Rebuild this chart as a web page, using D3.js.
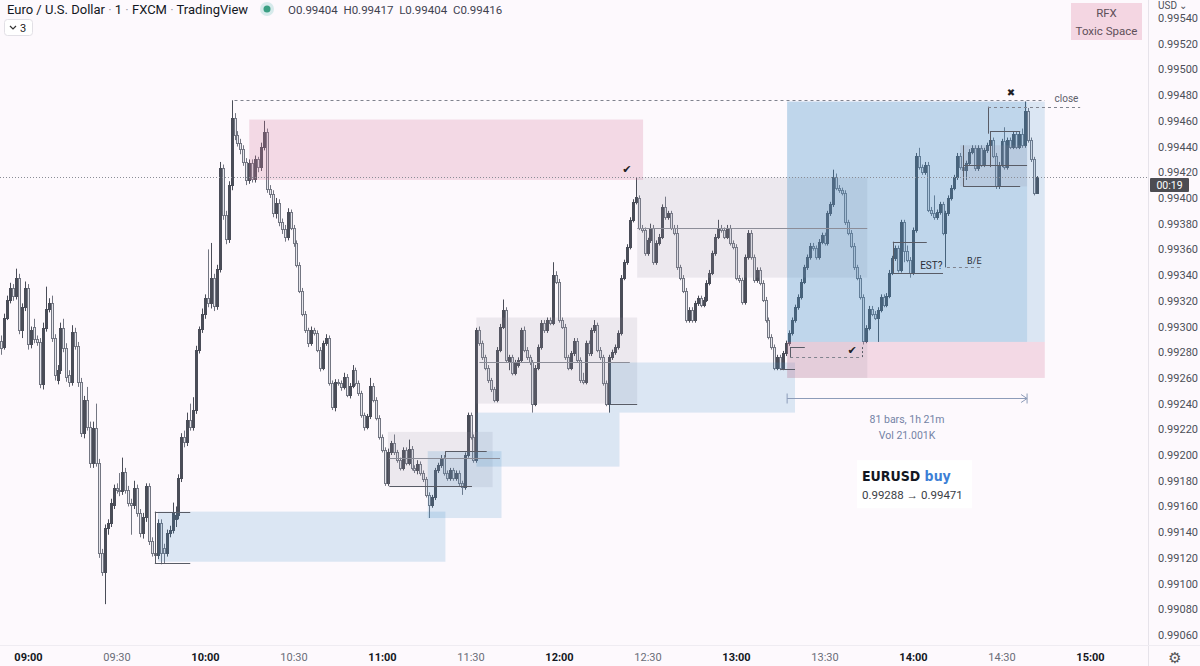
<!DOCTYPE html>
<html><head><meta charset="utf-8">
<script src="https://cdn.jsdelivr.net/npm/d3@7"></script>
<style>html,body{margin:0;padding:0;background:#fdf9fd;}svg{display:block;font-family:Roboto,"Noto Sans",sans-serif;}</style>
</head><body><svg id="c" width="1200" height="666"></svg>
<script>
// ---------------- data ----------------
const symbolParts = ["Euro / U.S. Dollar", "1", "FXCM", "TradingView"];
const lastBar = {o: 0.99404, h: 0.99417, l: 0.99404, c: 0.99416};
const countdown = "00:19";
const firstBarTime = "08:51"; // 1-minute bars
const opens = [.99289,.99284,.99307,.99321,.99330,.99324,.99338,.99297,.99315,.99330,
.99286,.99300,.99290,.99288,.99255,.99299,.99314,.99318,.99291,.99258,
.99266,.99299,.99283,.99262,.99257,.99296,.99285,.99257,.99217,.99243,
.99222,.99194,.99221,.99194,.99124,.99109,.99143,.99147,.99161,.99174,
.99173,.99172,.99187,.99173,.99163,.99161,.99174,.99155,.99139,.99152,
.99176,.99133,.99124,.99122,.99147,.99128,.99124,.99139,.99142,.99150,
.99153,.99182,.99214,.99210,.99227,.99222,.99235,.99282,.99298,.99310,
.99322,.99318,.99338,.99316,.99345,.99423,.99387,.99368,.99410,.99462,
.99449,.99443,.99438,.99428,.99414,.99427,.99415,.99430,.99424,.99440,
.99451,.99407,.99403,.99388,.99396,.99381,.99376,.99370,.99389,.99377,
.99365,.99348,.99328,.99310,.99297,.99287,.99297,.99295,.99282,.99268,
.99287,.99291,.99256,.99237,.99257,.99256,.99253,.99261,.99247,.99254,
.99266,.99256,.99248,.99231,.99222,.99230,.99254,.99243,.99229,.99214,
.99204,.99178,.99202,.99209,.99202,.99196,.99190,.99204,.99194,.99205,
.99190,.99188,.99193,.99186,.99181,.99169,.99161,.99167,.99188,.99192,
.99198,.99186,.99182,.99188,.99182,.99186,.99178,.99175,.99200,.99231,
.99214,.99196,.99297,.99287,.99276,.99268,.99258,.99251,.99243,.99282,
.99300,.99313,.99272,.99276,.99264,.99270,.99274,.99297,.99282,.99276,
.99272,.99240,.99268,.99284,.99303,.99297,.99305,.99303,.99340,.99335,
.99305,.99300,.99276,.99268,.99279,.99289,.99274,.99258,.99257,.99287,
.99279,.99297,.99301,.99282,.99276,.99256,.99240,.99276,.99280,.99284,
.99295,.99338,.99350,.99362,.99383,.99397,.99400,.99377,.99375,.99357,
.99367,.99377,.99350,.99365,.99370,.99393,.99385,.99388,.99377,.99373,
.99346,.99338,.99328,.99305,.99313,.99305,.99318,.99322,.99317,.99321,
.99334,.99342,.99357,.99370,.99377,.99375,.99370,.99377,.99365,.99362,
.99338,.99336,.99319,.99354,.99373,.99354,.99336,.99344,.99334,.99321,
.99305,.99292,.99284,.99268,.99276,.99268,.99279,.99287,.99295,.99305,
.99315,.99323,.99335,.99346,.99354,.99363,.99361,.99354,.99366,.99371,
.99365,.99388,.99395,.99416,.99408,.99406,.99404,.99381,.99373,.99363,
.99346,.99338,.99323,.99289,.99299,.99314,.99310,.99307,.99313,.99323,
.99317,.99324,.99342,.99353,.99361,.99344,.99381,.99359,.99352,.99342,
.99375,.99433,.99424,.99420,.99426,.99391,.99388,.99385,.99389,.99395,
.99373,.99388,.99400,.99408,.99416,.99433,.99424,.99422,.99427,.99436,
.99439,.99423,.99439,.99426,.99437,.99441,.99445,.99433,.99409,.99426,
.99444,.99424,.99445,.99440,.99450,.99440,.99450,.99441,.99468,.99445,
.99430,.99404];
const highs = [.99293,.99310,.99324,.99334,.99333,.99345,.99341,.99318,.99335,.99333,
.99300,.99306,.99293,.99291,.99303,.99331,.99322,.99324,.99294,.99270,
.99303,.99306,.99287,.99266,.99301,.99299,.99288,.99260,.99246,.99253,
.99226,.99226,.99240,.99197,.99127,.99146,.99150,.99166,.99177,.99178,
.99186,.99198,.99190,.99176,.99166,.99180,.99177,.99158,.99155,.99178,
.99178,.99136,.99126,.99150,.99150,.99131,.99142,.99145,.99163,.99160,
.99185,.99217,.99219,.99233,.99240,.99245,.99285,.99300,.99314,.99325,
.99360,.99365,.99341,.99348,.99428,.99426,.99390,.99413,.99476,.99466,
.99452,.99446,.99441,.99431,.99430,.99430,.99433,.99432,.99443,.99460,
.99454,.99410,.99406,.99400,.99399,.99384,.99379,.99392,.99391,.99379,
.99367,.99350,.99330,.99312,.99299,.99300,.99299,.99297,.99284,.99289,
.99294,.99293,.99258,.99259,.99259,.99258,.99264,.99263,.99256,.99270,
.99268,.99258,.99250,.99233,.99232,.99260,.99256,.99245,.99231,.99216,
.99206,.99205,.99211,.99216,.99204,.99198,.99206,.99206,.99212,.99207,
.99192,.99196,.99195,.99188,.99183,.99171,.99169,.99190,.99194,.99200,
.99200,.99188,.99190,.99190,.99188,.99188,.99180,.99202,.99233,.99233,
.99216,.99299,.99300,.99289,.99278,.99270,.99260,.99253,.99284,.99302,
.99321,.99315,.99278,.99278,.99274,.99276,.99299,.99300,.99284,.99278,
.99274,.99270,.99286,.99305,.99305,.99307,.99307,.99350,.99343,.99337,
.99307,.99302,.99278,.99281,.99291,.99291,.99276,.99264,.99289,.99289,
.99299,.99305,.99303,.99284,.99278,.99258,.99278,.99282,.99286,.99297,
.99340,.99352,.99364,.99385,.99399,.99416,.99402,.99379,.99377,.99369,
.99380,.99379,.99367,.99372,.99395,.99401,.99390,.99390,.99379,.99379,
.99348,.99340,.99330,.99315,.99315,.99320,.99324,.99324,.99323,.99336,
.99344,.99359,.99372,.99383,.99379,.99377,.99379,.99379,.99367,.99364,
.99340,.99338,.99356,.99375,.99375,.99356,.99346,.99346,.99336,.99323,
.99307,.99294,.99286,.99278,.99278,.99281,.99289,.99297,.99307,.99317,
.99325,.99337,.99348,.99356,.99365,.99365,.99363,.99368,.99373,.99373,
.99390,.99397,.99422,.99419,.99410,.99408,.99406,.99383,.99375,.99365,
.99348,.99340,.99325,.99301,.99316,.99316,.99312,.99315,.99325,.99325,
.99326,.99344,.99355,.99363,.99363,.99383,.99383,.99363,.99354,.99377,
.99435,.99439,.99426,.99428,.99428,.99393,.99402,.99391,.99397,.99397,
.99390,.99402,.99410,.99418,.99435,.99435,.99426,.99429,.99438,.99441,
.99441,.99441,.99441,.99439,.99443,.99447,.99447,.99435,.99428,.99446,
.99455,.99447,.99447,.99452,.99452,.99452,.99454,.99475,.99470,.99447,
.99432,.99417];
const lows = [.99278,.99282,.99305,.99318,.99320,.99321,.99294,.99291,.99312,.99282,
.99283,.99287,.99285,.99252,.99251,.99296,.99311,.99288,.99258,.99255,
.99263,.99280,.99257,.99253,.99254,.99282,.99253,.99214,.99213,.99219,
.99190,.99190,.99191,.99120,.99106,.99084,.99138,.99144,.99158,.99170,
.99168,.99169,.99170,.99160,.99138,.99158,.99152,.99136,.99135,.99148,
.99130,.99121,.99118,.99119,.99115,.99116,.99121,.99136,.99139,.99144,
.99150,.99179,.99206,.99207,.99219,.99219,.99232,.99279,.99295,.99306,
.99315,.99314,.99312,.99313,.99342,.99383,.99364,.99365,.99406,.99445,
.99440,.99434,.99425,.99410,.99411,.99412,.99412,.99420,.99421,.99437,
.99404,.99400,.99385,.99384,.99378,.99372,.99366,.99367,.99375,.99362,
.99346,.99326,.99308,.99295,.99284,.99285,.99293,.99280,.99265,.99266,
.99285,.99254,.99235,.99234,.99254,.99250,.99251,.99245,.99244,.99252,
.99254,.99246,.99229,.99219,.99220,.99228,.99241,.99227,.99212,.99202,
.99176,.99176,.99200,.99200,.99194,.99188,.99188,.99192,.99192,.99188,
.99186,.99185,.99184,.99179,.99167,.99151,.99159,.99165,.99186,.99190,
.99184,.99180,.99180,.99180,.99180,.99176,.99169,.99173,.99198,.99212,
.99194,.99194,.99285,.99274,.99266,.99256,.99249,.99241,.99241,.99280,
.99298,.99272,.99266,.99262,.99262,.99268,.99272,.99280,.99274,.99270,
.99233,.99238,.99266,.99282,.99295,.99295,.99301,.99301,.99333,.99303,
.99298,.99274,.99266,.99266,.99277,.99272,.99256,.99255,.99255,.99277,
.99277,.99295,.99280,.99274,.99254,.99238,.99233,.99274,.99278,.99282,
.99293,.99336,.99348,.99360,.99381,.99395,.99375,.99373,.99355,.99355,
.99365,.99348,.99348,.99363,.99368,.99383,.99383,.99375,.99371,.99344,
.99336,.99326,.99303,.99303,.99303,.99303,.99316,.99315,.99315,.99319,
.99332,.99340,.99355,.99368,.99373,.99368,.99368,.99363,.99360,.99336,
.99334,.99317,.99317,.99352,.99352,.99334,.99334,.99332,.99319,.99303,
.99290,.99282,.99266,.99266,.99266,.99266,.99277,.99285,.99293,.99303,
.99313,.99321,.99333,.99344,.99352,.99359,.99352,.99352,.99364,.99363,
.99363,.99386,.99393,.99406,.99404,.99402,.99379,.99371,.99361,.99344,
.99336,.99321,.99286,.99287,.99297,.99308,.99305,.99288,.99311,.99315,
.99315,.99322,.99340,.99351,.99342,.99342,.99350,.99350,.99338,.99340,
.99373,.99422,.99418,.99418,.99389,.99386,.99383,.99383,.99387,.99371,
.99346,.99386,.99398,.99406,.99414,.99422,.99420,.99414,.99425,.99434,
.99421,.99421,.99424,.99424,.99435,.99439,.99431,.99407,.99407,.99424,
.99422,.99422,.99438,.99438,.99438,.99438,.99439,.99439,.99443,.99428,
.99402,.99404];
const closes = [.99283,.99307,.99321,.99330,.99324,.99338,.99297,.99315,.99330,.99286,
.99297,.99290,.99288,.99255,.99299,.99314,.99318,.99291,.99262,.99266,
.99299,.99283,.99261,.99257,.99296,.99285,.99257,.99217,.99243,.99222,
.99194,.99221,.99194,.99124,.99109,.99143,.99147,.99163,.99174,.99173,
.99172,.99187,.99173,.99163,.99161,.99174,.99155,.99139,.99152,.99176,
.99133,.99124,.99122,.99147,.99124,.99124,.99139,.99142,.99155,.99153,
.99182,.99214,.99210,.99227,.99222,.99235,.99282,.99298,.99310,.99322,
.99318,.99338,.99316,.99345,.99423,.99387,.99368,.99410,.99462,.99449,
.99443,.99438,.99428,.99414,.99427,.99415,.99430,.99424,.99440,.99451,
.99407,.99403,.99388,.99396,.99381,.99376,.99370,.99389,.99377,.99365,
.99348,.99328,.99310,.99297,.99287,.99297,.99295,.99282,.99268,.99287,
.99291,.99256,.99237,.99257,.99256,.99253,.99261,.99247,.99254,.99266,
.99256,.99248,.99231,.99222,.99230,.99254,.99243,.99229,.99214,.99204,
.99178,.99202,.99209,.99202,.99196,.99190,.99204,.99194,.99205,.99190,
.99188,.99193,.99186,.99181,.99169,.99161,.99167,.99188,.99192,.99198,
.99186,.99182,.99188,.99182,.99186,.99178,.99175,.99200,.99231,.99214,
.99196,.99297,.99287,.99276,.99268,.99258,.99251,.99243,.99282,.99300,
.99313,.99274,.99276,.99264,.99272,.99274,.99297,.99282,.99276,.99272,
.99240,.99268,.99284,.99303,.99297,.99305,.99303,.99340,.99335,.99305,
.99300,.99276,.99268,.99279,.99289,.99274,.99258,.99257,.99287,.99279,
.99297,.99301,.99282,.99276,.99256,.99240,.99276,.99280,.99284,.99295,
.99338,.99350,.99362,.99383,.99397,.99401,.99377,.99375,.99357,.99367,
.99377,.99350,.99365,.99370,.99393,.99385,.99388,.99377,.99373,.99346,
.99338,.99328,.99305,.99313,.99305,.99318,.99322,.99317,.99321,.99334,
.99342,.99357,.99370,.99377,.99375,.99370,.99377,.99365,.99362,.99338,
.99336,.99319,.99354,.99373,.99354,.99336,.99344,.99334,.99321,.99305,
.99292,.99284,.99268,.99276,.99268,.99279,.99287,.99295,.99305,.99315,
.99323,.99335,.99346,.99354,.99363,.99361,.99354,.99366,.99371,.99365,
.99388,.99395,.99416,.99408,.99406,.99404,.99381,.99373,.99363,.99346,
.99338,.99323,.99289,.99299,.99314,.99310,.99307,.99313,.99323,.99317,
.99324,.99342,.99353,.99361,.99344,.99381,.99359,.99352,.99342,.99375,
.99433,.99424,.99420,.99426,.99391,.99388,.99385,.99389,.99395,.99373,
.99388,.99400,.99408,.99416,.99433,.99424,.99422,.99427,.99436,.99439,
.99423,.99439,.99426,.99437,.99441,.99445,.99433,.99409,.99426,.99444,
.99424,.99445,.99440,.99450,.99440,.99450,.99441,.99468,.99445,.99430,
.99404,.99416];
const timeTicks = ["09:00","09:30","10:00","10:30","11:00","11:30","12:00","12:30","13:00","13:30","14:00","14:30","15:00"];
const priceTicks = [0.99060,0.99080,0.99100,0.99120,0.99140,0.99160,0.99180,0.99200,0.99220,0.99240,0.99260,0.99280,0.99300,0.99320,0.99340,0.99360,0.99380,0.99400,0.99420,0.99440,0.99460,0.99480,0.99500,0.99520,0.99540];

// drawings (time / price anchors)
const zoneFrom = ["09:44","11:02","11:15:30","11:32","11:32","12:17","10:15","12:26:30","13:17:20","13:17:20","13:17:20","13:17:20","14:16"];
const zoneTo   = ["11:21:30","11:37:30","11:40:30","12:20:30","12:26:30","13:20","12:28:30","13:44:30","14:44:40","14:38:40","14:44:40","13:44:30","14:38:40"];
const zoneHi   = [0.99156,0.99218,0.99203,0.99233,0.99307,0.99272,0.99461,0.99416,0.99475,0.99475,0.99288,0.99288,0.99441];
const zoneLo   = [0.99117,0.99175,0.99151,0.99191,0.99240,0.99233,0.99414,0.99338,0.99288,0.99288,0.99260,0.99260,0.99409];
const zoneKind = ["blue","gray","blue","blue","gray","blue","pink","gray","blue","blue","pink","gray","gray"];

const hFrom  = ["09:43","09:43","11:02:30","11:02:30","11:21:30","11:33","12:17:20","12:26:30","13:15","13:18:20","13:53:10","13:53:10","14:17","14:17","14:26:05"];
const hTo    = ["09:55","09:55","11:40","11:30:30","11:35:30","12:24","12:26:30","13:44:30","13:20","13:23:20","14:04:40","14:10:10","14:38:40","14:36:20","14:36:20"];
const hPrice = [0.99156,0.99116,0.99198,0.99176,0.99203,0.99272,0.99240,0.99377,0.99267,0.99284,0.99366,0.99342,0.99426,0.99409,0.99452];
const vAt = ["09:43","11:21:30","13:18:20","13:53:10","14:17","14:26:05","14:25:25"];
const vP0 = [0.99156,0.99203,0.99284,0.99366,0.99441,0.99424,0.99450];
const vP1 = [0.99116,0.99198,0.99276,0.99342,0.99409,0.99452,0.99471];
const dFrom = ["10:10","14:25:25","13:18:20","14:11:30"];
const dTo   = ["14:44:40","14:56:40","13:42:40","14:23:25"];
const dPrice= [0.99476,0.99471,0.99276,0.99346];
const trade = {symbol: "EURUSD", side: "buy", entry: "0.99288", exit: "0.99471", from: "13:17:20", to: "14:38:40", at: 0.99244,
  bars: "81 bars, 1h 21m", vol: "Vol 21.001K"};

// ---------------- drawing ----------------
const W = 1200, H = 666, plotR = 1148, plotB = 645;
const parseT = s => { const a = s.split(":").map(Number); return new Date(2022, 8, 20, a[0], a[1], a[2] || 0); };
const svg = d3.select("#c");
svg.append("rect").attr("width", W).attr("height", H).attr("fill", "#fdf9fd");
const x = d3.scaleTime().domain([parseT("09:00"), parseT("15:00")]).range([28, 1090]);
const y = d3.scaleLinear().domain([0.9906, 0.9954]).range([635, 18]);
const t0 = parseT(firstBarTime);
const bars = opens.map((o, i) => ({t: d3.timeMinute.offset(t0, i), o, h: highs[i], l: lows[i], c: closes[i]}));

svg.append("defs").append("clipPath").attr("id", "plot").append("rect").attr("width", plotR).attr("height", plotB);
const plot = svg.append("g").attr("clip-path", "url(#plot)");

// candles
const cx = d => Math.round(x(d.t)) + 0.5;
const cg = plot.append("g");
cg.selectAll("line").data(bars).join("line")
  .attr("x1", cx).attr("x2", cx).attr("y1", d => y(d.h)).attr("y2", d => y(d.l))
  .attr("stroke", d => d.c >= d.o ? "#4a4d58" : "#737682").attr("stroke-width", 1);
cg.selectAll("rect").data(bars).join("rect")
  .attr("x", d => cx(d) - 1).attr("width", 2)
  .attr("y", d => Math.round(y(Math.max(d.o, d.c))) + 0.5)
  .attr("height", d => Math.max(1, Math.round(y(Math.min(d.o, d.c))) - Math.round(y(Math.max(d.o, d.c)))))
  .attr("fill", d => d.c >= d.o ? "#4a4d58" : "#e6e6ec")
  .attr("stroke", d => d.c >= d.o ? "#4a4d58" : "#737682").attr("stroke-width", 1);

// zones
const zoneColor = {blue: "rgba(67,143,199,0.18)", gray: "rgba(150,140,160,0.16)", pink: "rgba(217,125,161,0.25)"};
plot.append("g").selectAll("rect").data(zoneFrom.map((f, i) => i)).join("rect")
  .attr("x", i => x(parseT(zoneFrom[i]))).attr("width", i => x(parseT(zoneTo[i])) - x(parseT(zoneFrom[i])))
  .attr("y", i => y(zoneHi[i])).attr("height", i => y(zoneLo[i]) - y(zoneHi[i]))
  .attr("fill", i => zoneColor[zoneKind[i]]);

// lines
const lg = plot.append("g").attr("stroke", "#595c66").attr("stroke-width", 1).attr("fill", "none");
hFrom.forEach((f, i) => {
  const yy = Math.round(y(hPrice[i])) + 0.5;
  lg.append("line").attr("x1", x(parseT(f))).attr("x2", x(parseT(hTo[i]))).attr("y1", yy).attr("y2", yy)
    .attr("stroke", (i === 2 || i === 5 || i === 7) ? "#8c8d98" : "#595c66");
});
vAt.forEach((a, i) => {
  const xx = Math.round(x(parseT(a))) + 0.5;
  lg.append("line").attr("x1", xx).attr("x2", xx).attr("y1", y(vP0[i])).attr("y2", y(vP1[i]));
});
dFrom.forEach((f, i) => {
  const yy = Math.round(y(dPrice[i])) + 0.5;
  lg.append("line").attr("x1", x(parseT(f))).attr("x2", x(parseT(dTo[i]))).attr("y1", yy).attr("y2", yy)
    .attr("stroke", "#80838e").attr("stroke-dasharray", "3,3");
});
{ const xx = Math.round(x(parseT("13:42:40"))) + 0.5;
  lg.append("line").attr("x1", xx).attr("x2", xx).attr("y1", y(0.99284)).attr("y2", y(0.99276)).attr("stroke-dasharray", "2,2"); }

// last price line
const lp = Math.round(y(lastBar.c)) + 0.5;
plot.append("line").attr("x1", 0).attr("x2", plotR).attr("y1", lp).attr("y2", lp)
  .attr("stroke", "#8a8d96").attr("stroke-dasharray", "1,2");

// measure arrow
const mx0 = x(parseT(trade.from)), mx1 = x(parseT(trade.to)), my = Math.round(y(trade.at)) + 0.5;
const mg = plot.append("g").attr("stroke", "#8d9cb9").attr("stroke-width", 1).attr("fill", "none");
mg.append("line").attr("x1", mx0).attr("x2", mx1).attr("y1", my).attr("y2", my);
mg.append("line").attr("x1", mx0).attr("x2", mx0).attr("y1", my - 5).attr("y2", my + 5);
mg.append("line").attr("x1", mx1).attr("x2", mx1).attr("y1", my - 5).attr("y2", my + 5);
mg.append("path").attr("d", `M${mx1 - 6},${my - 4}L${mx1},${my}L${mx1 - 6},${my + 4}`);
const mcx = (mx0 + mx1) / 2;
plot.append("text").attr("x", mcx).attr("y", my + 24).attr("text-anchor", "middle").attr("font-size", 10.5).attr("fill", "#7483a5").text(trade.bars);
plot.append("text").attr("x", mcx).attr("y", my + 40).attr("text-anchor", "middle").attr("font-size", 10.5).attr("fill", "#7483a5").text(trade.vol);

// trade label box
const bx = x(parseT("13:41")), by = y(0.99196);
plot.append("rect").attr("x", bx).attr("y", by).attr("width", 115).attr("height", 48).attr("fill", "#ffffff");
const t1 = plot.append("text").attr("x", bx + 5).attr("y", by + 21).attr("font-size", 14).attr("font-weight", 700)
  .attr("font-family", "'Liberation Sans Narrow','DejaVu Sans Condensed',sans-serif").attr("fill", "#131722");
t1.append("tspan").text(trade.symbol + " ");
t1.append("tspan").attr("fill", "#3d7fd6").text(trade.side);
plot.append("text").attr("x", bx + 5).attr("y", by + 39).attr("font-size", 11.5).attr("fill", "#3a3d46")
  .text(trade.entry + " \u2192 " + trade.exit);

// marks
const mark = (s, t, p, size) => plot.append("text").attr("x", x(parseT(t))).attr("y", y(p)).attr("text-anchor", "middle")
  .attr("dominant-baseline", "central").attr("font-size", size).attr("font-family", "'DejaVu Sans',sans-serif").attr("fill", "#1e1e24").text(s);
mark("\u2714", "12:23", 0.99422, 11);
mark("\u2714", "13:39:20", 0.99281, 11);
mark("\u2716", "14:33:10", 0.99482, 10);
plot.append("text").attr("x", x(parseT("14:48"))).attr("y", y(0.99475)).attr("font-size", 10).attr("fill", "#5d606b").text("close");
plot.append("text").attr("x", x(parseT("14:02:25"))).attr("y", y(0.99345)).attr("font-size", 10).attr("fill", "#2a2d36").text("EST?");
plot.append("text").attr("x", x(parseT("14:18:20"))).attr("y", y(0.99349)).attr("font-size", 9).attr("fill", "#2a2d36").text("B/E");

// axes frame
svg.append("line").attr("x1", plotR + 0.5).attr("x2", plotR + 0.5).attr("y1", 0).attr("y2", H).attr("stroke", "#e6e3ea");
svg.append("line").attr("x1", 0).attr("x2", W).attr("y1", plotB + 0.5).attr("y2", plotB + 0.5).attr("stroke", "#efecf2");

// price axis
const ya = svg.append("g").attr("transform", `translate(${plotR},0)`)
  .call(d3.axisRight(y).tickValues(priceTicks).tickFormat(d3.format(".5f")).tickSize(0).tickPadding(10));
ya.select(".domain").remove();
ya.selectAll("text").attr("font-size", 11).attr("font-family", "Roboto,sans-serif").attr("fill", "#4c4f58");
svg.append("text").attr("x", 1158).attr("y", 9).attr("font-size", 10).attr("fill", "#4c4f58").text("USD \u2304");

// countdown label (sits just under the last price line)
svg.append("rect").attr("x", 1150).attr("y", lp + 0.5).attr("width", 39).attr("height", 14).attr("rx", 1).attr("fill", "#4c4c52");
svg.append("text").attr("x", 1169.5).attr("y", lp + 11.5).attr("text-anchor", "middle").attr("font-size", 10.5).attr("fill", "#ffffff").text(countdown);

// time axis
const xa = svg.append("g").attr("transform", `translate(0,${plotB + 3})`)
  .call(d3.axisBottom(x).tickValues(timeTicks.map(parseT)).tickFormat(d3.timeFormat("%H:%M")).tickSize(0).tickPadding(5));
xa.select(".domain").remove();
xa.selectAll("text").attr("font-size", 11).attr("font-family", "Roboto,sans-serif")
  .attr("font-weight", d => d.getMinutes() === 0 ? 700 : 400)
  .attr("fill", d => d.getMinutes() === 0 ? "#131722" : "#6a6d78");
svg.append("text").attr("x", 1175).attr("y", 658).attr("text-anchor", "middle").attr("dominant-baseline", "central")
  .attr("font-size", 15).attr("font-family", "'DejaVu Sans',sans-serif").attr("fill", "#555").text("\u2699");

// legend
const leg = svg.append("text").attr("x", 7).attr("y", 14).attr("font-size", 13).attr("fill", "#131722");
symbolParts.forEach((p, i) => {
  if (i > 0) leg.append("tspan").attr("fill", "#9a9ca5").text(" \u00b7 ");
  leg.append("tspan").text(p);
});
svg.append("circle").attr("cx", 267).attr("cy", 9).attr("r", 7).attr("fill", "rgba(38,166,154,0.18)");
svg.append("circle").attr("cx", 267).attr("cy", 9).attr("r", 3.5).attr("fill", "#3a9f83");
const ohlc = [["O", lastBar.o], ["H", lastBar.h], ["L", lastBar.l], ["C", lastBar.c]];
const oh = svg.append("text").attr("x", 288).attr("y", 14).attr("font-size", 11.5).attr("fill", "#3f4250");
ohlc.forEach(([k, v], i) => { oh.append("tspan").text((i ? "  " : "") + k + v.toFixed(5)); });
oh.attr("xml:space", "preserve");
svg.append("rect").attr("x", 4.5).attr("y", 19.5).attr("width", 28).attr("height", 16).attr("rx", 3)
  .attr("fill", "#fff").attr("stroke", "#e2e0e6");
svg.append("path").attr("d", "M10,26L13,29L16,26").attr("fill", "none").attr("stroke", "#333").attr("stroke-width", 1.2);
svg.append("text").attr("x", 20).attr("y", 32).attr("font-size", 11).attr("fill", "#222").text("3");

// RFX badge
svg.append("rect").attr("x", 1071).attr("y", 3).attr("width", 71).attr("height", 37).attr("fill", "#f4d6e2");
svg.append("text").attr("x", 1106.5).attr("y", 17).attr("text-anchor", "middle").attr("font-size", 11.5).attr("fill", "#5e4f59").text("RFX");
svg.append("text").attr("x", 1106.5).attr("y", 35).attr("text-anchor", "middle").attr("font-size", 11.5).attr("fill", "#5e4f59").text("Toxic Space");
</script></body></html>
